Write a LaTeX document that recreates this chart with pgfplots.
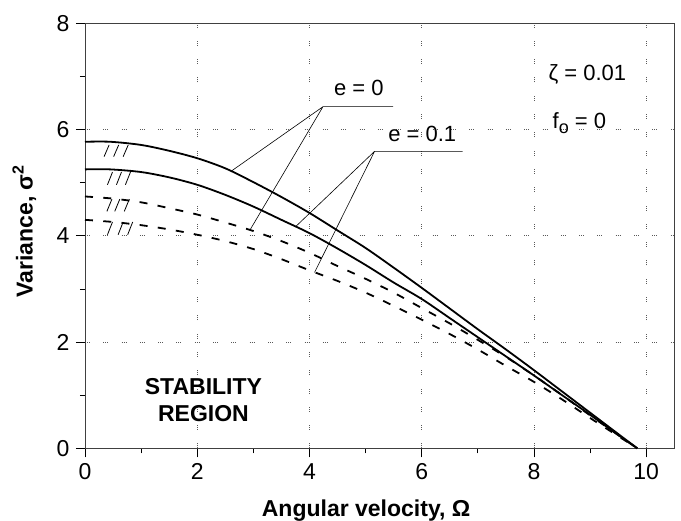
\documentclass[border=0pt]{standalone}
\usepackage{pgfplots}
\pgfplotsset{compat=1.18}
\usepackage{fontspec}
\setmainfont{Liberation Sans}
\usetikzlibrary{calc}

\newcommand{\tickfont}{\fontsize{23bp}{26bp}\selectfont}
\newcommand{\annfont}{\fontsize{22bp}{26bp}\selectfont}
\newcommand{\labfont}{\fontsize{23bp}{27bp}\selectfont\bfseries}

\pgfplotstableread{
x y
0 5.77
0.45 5.77
1 5.71
1.5 5.60
2 5.46
2.5 5.27
3 5.01
3.5 4.73
4 4.43
4.5 4.10
5 3.77
5.5 3.40
6 3.02
6.5 2.63
7 2.24
7.5 1.86
8 1.47
8.5 1.07
9 0.67
9.5 0.27
9.84 0
}\solidA

\pgfplotstableread{
x y
0 5.25
0.45 5.25
1 5.20
1.5 5.10
2 4.96
2.5 4.77
3 4.55
3.5 4.30
4 4.05
4.5 3.76
5 3.45
5.5 3.12
6 2.81
6.5 2.45
7 2.09
7.5 1.73
8 1.37
8.5 1.00
9 0.63
9.5 0.25
9.84 0
}\solidB

\pgfplotstableread{
x y
0 4.74
0.5 4.70
1 4.63
1.5 4.52
2 4.40
2.5 4.25
3 4.09
3.5 3.90
4 3.68
4.5 3.43
5 3.19
5.5 2.93
6 2.64
6.5 2.35
7 2.04
7.5 1.72
8 1.37
8.5 1.00
9 0.62
9.5 0.25
9.84 0
}\dashA

\pgfplotstableread{
x y
0 4.30
0.5 4.26
1 4.20
1.5 4.12
2 4.02
2.5 3.90
3 3.75
3.5 3.56
4 3.35
4.5 3.15
5 2.93
5.5 2.68
6 2.42
6.5 2.15
7 1.86
7.5 1.55
8 1.25
8.5 0.92
9 0.57
9.5 0.23
9.84 0
}\dashB

\begin{document}
\begin{tikzpicture}
\begin{axis}[
  scale only axis, width=589.3bp, height=425bp,
  xmin=0, xmax=10.5, ymin=0, ymax=8,
  xtick={0,2,...,10}, ytick={0,2,...,8},
  minor x tick num=1, minor y tick num=1,
  tick align=outside, tick pos=left,
  major tick length=9bp, minor tick length=5bp,
  tick style={black, line width=0.8bp},
  axis line style={black!75, line width=0.9bp},
  grid=major,
  major grid style={black!65, line width=0.7bp, dash pattern=on 0.8bp off 1.2bp on 0.8bp off 1.2bp on 0.8bp off 13.5bp},
  tick label style={font=\tickfont},
  xticklabel style={yshift=-3bp},
  yticklabel style={xshift=-3bp},
  /pgf/number format/assume math mode=true,
  xlabel={Angular velocity, Ω},
  ylabel={Variance, σ\raisebox{0.75ex}{\fontsize{16bp}{16bp}\selectfont 2}},
  label style={font=\labfont},
  xlabel style={at={(axis description cs:0.477,-0.1475)}, anchor=center},
  ylabel style={at={(axis description cs:-0.103,0.51)}, anchor=center},
  unbounded coords=jump,
  clip=false,
]
\addplot[black, line width=1.8bp, smooth] table[x=x,y=y] {\solidA};
\addplot[black, line width=1.8bp, smooth] table[x=x,y=y] {\solidB};
\addplot[black, line width=1.8bp, smooth, dash pattern=on 8bp off 10.3bp] table[x=x,y=y] {\dashA};
\addplot[black, line width=1.8bp, smooth, dash pattern=on 8bp off 10.3bp] table[x=x,y=y] {\dashB};

% hatching
\addplot[black, line width=0.8bp] coordinates {
(0.34,5.49) (0.43,5.71) (0.45,nan)
(0.51,5.49) (0.60,5.71) (0.62,nan)
(0.68,5.49) (0.77,5.71) (0.80,nan)
(0.40,4.96) (0.49,5.20) (0.50,nan)
(0.56,4.96) (0.65,5.20) (0.66,nan)
(0.72,4.96) (0.81,5.20) (0.82,nan)
(0.39,4.46) (0.48,4.69) (0.50,nan)
(0.53,4.46) (0.62,4.69) (0.64,nan)
(0.70,4.46) (0.79,4.69) (0.80,nan)
(0.40,4.02) (0.49,4.26) (0.50,nan)
(0.59,4.02) (0.68,4.26) (0.70,nan)
(0.76,4.02) (0.85,4.26)
};

% leader lines
\addplot[black, line width=0.6bp] coordinates {(5.49,6.43) (4.24,6.43) (2.61,5.22) (3,nan) (4.24,6.43) (2.94,4.11)};
\addplot[black, line width=0.6bp] coordinates {(6.73,5.59) (5.16,5.59) (3.76,4.18) (4,nan) (5.16,5.59) (4.09,3.31)};

\node[font=\annfont] at (axis cs:4.88,6.78) {e = 0};
\node[font=\annfont] at (axis cs:6.01,5.91) {e = 0.1};
\node[font=\annfont] at (axis cs:8.95,7.03) {ζ = 0.01};
\node[font=\annfont] at (axis cs:8.81,6.12) {f\raisebox{-0.4ex}{\fontsize{18bp}{18bp}\selectfont o} = 0};
\node[font=\labfont, align=center] at (axis cs:2.11,0.91) {STABILITY\\REGION};

\coordinate (SW) at (rel axis cs:0,0);
\coordinate (NE) at (rel axis cs:1,1);
\end{axis}
\pgfresetboundingbox
\path[use as bounding box] ($(SW)+(-85bp,-72.7bp)$) rectangle ($(NE)+(6.7bp,23.3bp)$);
\end{tikzpicture}
\end{document}
